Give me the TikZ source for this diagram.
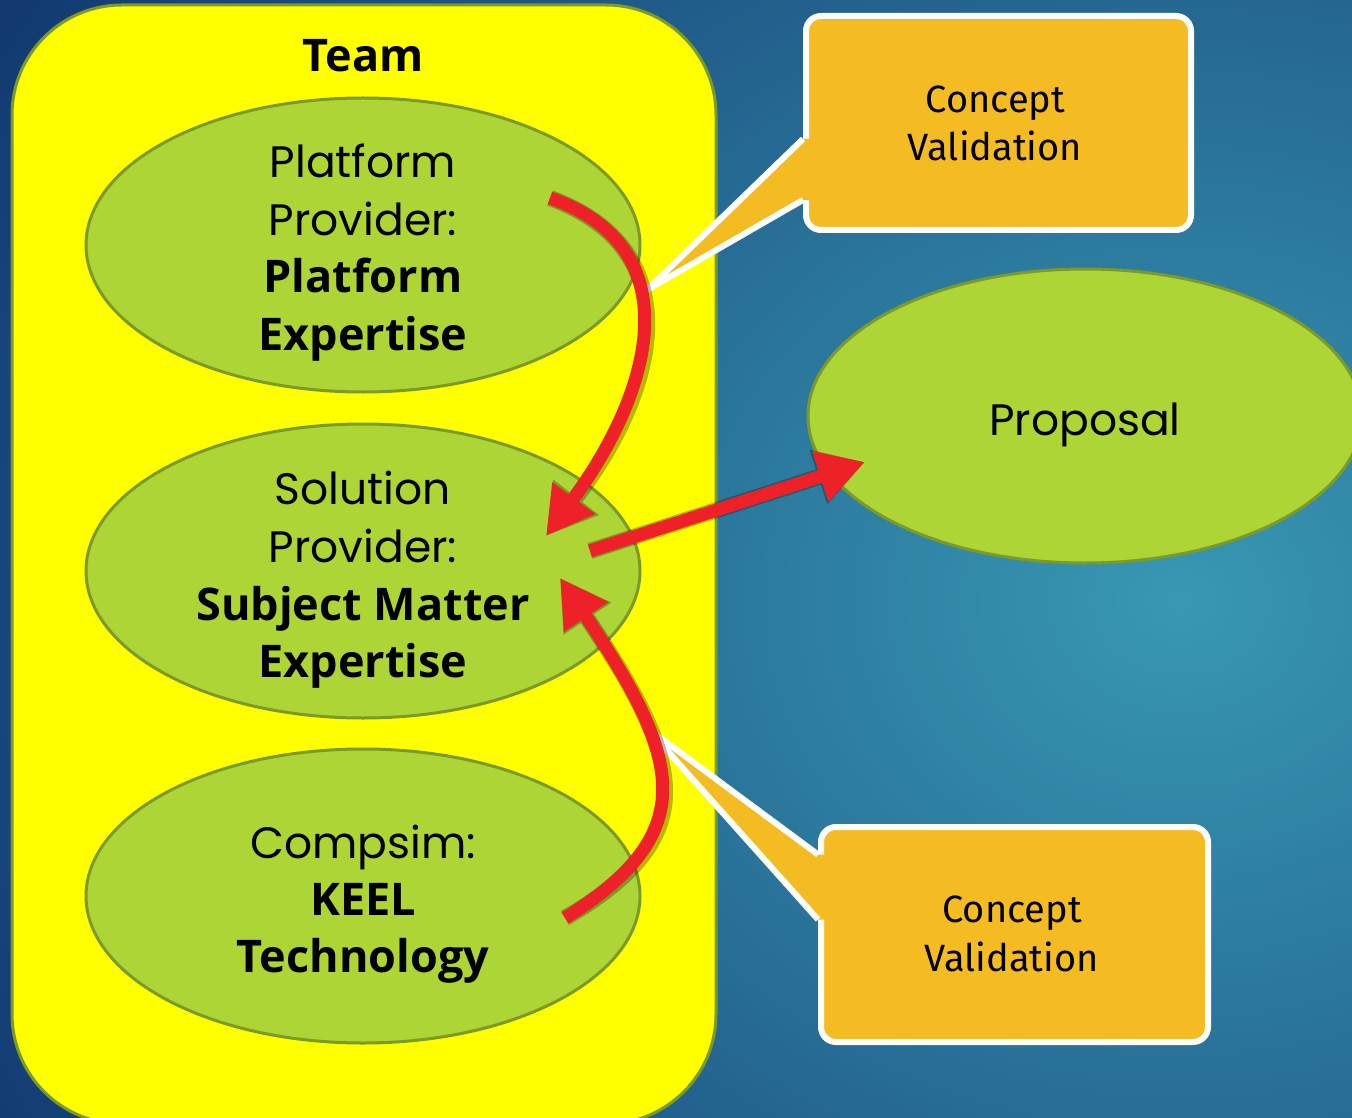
\documentclass[tikz,border=0pt]{standalone}
\usepackage{fontspec}
\setmainfont{Poppins}
\newfontfamily\boldfnt{Open Sans}
\newfontfamily\boxfnt{Fira Sans}
\usetikzlibrary{shapes.geometric,arrows.meta,calc}
\definecolor{navy}{HTML}{133A72}
\definecolor{tealc}{HTML}{3898B3}
\definecolor{teamyellow}{HTML}{FFFF00}
\definecolor{olive}{HTML}{7C9A2A}
\definecolor{leaf}{HTML}{ADD535}
\definecolor{calloutc}{HTML}{F4BC22}
\definecolor{arrowred}{HTML}{EE2129}
\tikzset{
  lbl/.style={inner sep=0pt, anchor=base, text=black},
  reg/.style={lbl, font=\fontsize{44}{52}\selectfont},
  bld/.style={lbl, font=\boldfnt\bfseries\fontsize{45}{54}\selectfont},
  cv/.style={lbl, font=\boxfnt\fontsize{38}{46}\selectfont},
  leafell/.style={ellipse, draw=olive, fill=leaf, line width=3pt,
    minimum width=554pt, minimum height=294pt, inner sep=0pt},
  teambox/.style={rectangle, rounded corners=110pt, draw=olive, fill=teamyellow,
    line width=3pt, minimum width=704pt, minimum height=1119pt, inner sep=0pt},
  cvbox/.style={rectangle, rounded corners=15pt, draw=white, fill=calloutc,
    line width=6pt, inner sep=0pt},
  pointerfill/.style={fill=calloutc},
  pointerline/.style={draw=white, line width=6pt, line join=round},
  redarr/.style={draw=arrowred, line width=13pt, -{Triangle[length=47pt,width=50pt]}},
  redshadow/.style={draw=black, line width=16pt, -{Triangle[length=49pt,width=54pt]}}
}
\begin{document}
\begin{tikzpicture}[x=1pt,y=-1pt]
\useasboundingbox (0,0) rectangle (1352,1118);
% background
\fill[navy] (0,0) rectangle (1352,1118);
\begin{scope}
  \clip (0,0) rectangle (1352,1118);
  \shade[inner color=tealc, outer color=navy] (1180,600) ellipse (1350pt and 1150pt);
\end{scope}

% team container
\node[teambox] (team) at (364,564.5) {};
\node[bld] (teamt) at (363,72) {Team};

% ellipses
\node[leafell] (p1) at (363,245) {};
\node[leafell] (s1) at (363,571) {};
\node[leafell] (c1) at (363,896) {};
\node[leafell] (prop) at (1085,416) {};

\node[reg] (p1a) at (363,178) {Platform};
\node[reg] (p1b) at (363,236) {Provider:};
\node[bld] (p1c) at (363,292) {Platform};
\node[bld] (p1d) at (363,350) {Expertise};

\node[reg] (s1a) at (363,504) {Solution};
\node[reg] (s1b) at (363,562) {Provider:};
\node[bld] (s1c) at (363,620) {Subject Matter};
\node[bld] (s1d) at (363,677) {Expertise};

\node[reg] (c1a) at (363,858) {Compsim:};
\node[bld] (c1b) at (363,915) {KEEL};
\node[bld] (c1c) at (363,972) {Technology};

\node[reg] (propt) at (1085,435) {Proposal};

% callout boxes
\node[cvbox, minimum width=385pt, minimum height=214pt] (cv1) at (998.5,123) {};
\coordinate (cv1tip) at (647,290);
\coordinate (cv1b1) at ($(cv1.west)+(0,16)$);
\coordinate (cv1b2) at ($(cv1.west)+(0,77)$);
\fill[pointerfill] (cv1tip) -- (cv1b1) -- ++(12,0) -- ($(cv1b2)+(12,0)$) -- (cv1b2) -- cycle;
\draw[pointerline] (cv1b1) -- (cv1tip) -- (cv1b2);
\node[cv] (cv1a) at (995.5,113) {Concept};
\node[cv] (cv1b) at (995,161) {Validation};

\node[cvbox, minimum width=387pt, minimum height=215pt] (cv2) at (1014.5,934.5) {};
\coordinate (cv2tip) at (647,728);
\coordinate (cv2b1) at ($(cv2.west)+(0,-80)$);
\coordinate (cv2b2) at ($(cv2.west)+(0,-15)$);
\fill[pointerfill] (cv2tip) -- (cv2b1) -- ++(12,0) -- ($(cv2b2)+(12,0)$) -- (cv2b2) -- cycle;
\draw[pointerline] (cv2b1) -- (cv2tip) -- (cv2b2);
\node[cv] (cv2a) at (1012,922) {Concept};
\node[cv] (cv2b) at (1011.5,971) {Validation};

% arrow end points
\coordinate (a1s) at ($(p1.center)+(187,-47)$);
\coordinate (a1e) at ($(s1.center)+(183,-35)$);
\coordinate (a2s) at ($(s1.center)+(227,-20)$);
\coordinate (a2e) at ($(prop.center)+(-220,46)$);
\coordinate (a3s) at ($(c1.center)+(202,22)$);
\coordinate (a3e) at ($(s1.center)+(197,7)$);

% shadows
\begin{scope}[transparency group, opacity=0.28, shift={(3,4)}]
  \draw[redshadow] (a1s) .. controls (691,247) and (654,389) .. (a1e);
  \draw[redshadow] (a2s) -- (a2e);
  \draw[redshadow] (a3s) .. controls (701,833) and (683,761) .. (a3e);
\end{scope}

% arrows
\draw[redarr] (a1s) .. controls (691,247) and (654,389) .. (a1e);
\draw[redarr] (a2s) -- (a2e);
\draw[redarr] (a3s) .. controls (701,833) and (683,761) .. (a3e);
\end{tikzpicture}
\end{document}
